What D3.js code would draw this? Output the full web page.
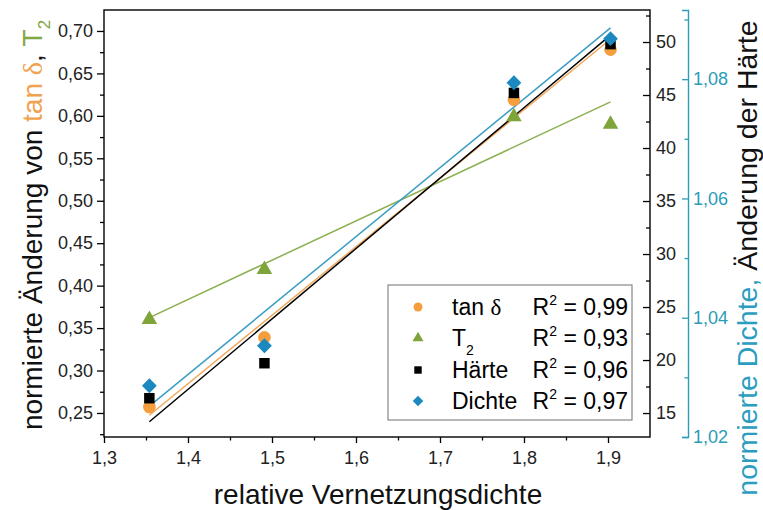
<!DOCTYPE html>
<html>
<head>
<meta charset="utf-8">
<script src="https://cdn.jsdelivr.net/npm/d3@7"></script>
<style>
  html, body { margin: 0; padding: 0; background: #fff; }
  svg { display: block; }
  text { font-family: "Liberation Sans", Arial, sans-serif; }
</style>
</head>
<body>
<svg id="chart" width="763" height="510"></svg>
<script>
// ---------- data ----------
const xValues   = [1.354, 1.491, 1.788, 1.903];
const tanDelta  = [0.257, 0.339, 0.619, 0.678];
const t2        = [0.360, 0.419, 0.599, 0.590];
const haerte    = [16.4, 19.7, 45.2, 49.8];
const dichte    = [1.0286, 1.0353, 1.0794, 1.0868];
const r2Labels  = ["0,99", "0,93", "0,96", "0,97"];

const xTicks       = [1.3, 1.4, 1.5, 1.6, 1.7, 1.8, 1.9];
const xMinorTicks  = [1.35, 1.45, 1.55, 1.65, 1.75, 1.85];
const yLeftTicks   = [0.25, 0.30, 0.35, 0.40, 0.45, 0.50, 0.55, 0.60, 0.65, 0.70];
const yLeftMinor   = [0.225, 0.275, 0.325, 0.375, 0.425, 0.475, 0.525, 0.575, 0.625, 0.675];
const hTicks       = [15, 20, 25, 30, 35, 40, 45, 50];
const hMinor       = [17.5, 22.5, 27.5, 32.5, 37.5, 42.5, 47.5, 52.5];
const dTicks       = [1.02, 1.04, 1.06, 1.08];
const dMinor       = [1.03, 1.05, 1.07, 1.09];

// ---------- layout ----------
const L = 104, R = 650, T = 10, B = 437;
const svg = d3.select("#chart");

const x  = d3.scaleLinear().domain([1.3, 1.95]).range([L, R]);
const yL = d3.scaleLinear().domain([0.2217, 0.7247]).range([B, T]);
const yH = d3.scaleLinear().domain([12.74, 53.02]).range([B, T]);
const yD = d3.scaleLinear().domain([1.02, 1.0916]).range([B, T]);

const comma = f => v => d3.format(f)(v).replace(".", ",");

const cOrange = "#F59E3D", cOrangeLine = "#F2A95E";
const cGreen = "#7EA43A", cGreenLine = "#8BAE4E";
const cBlack = "#000000";
const cBlue = "#1B89BF", cBlueLine = "#3C9DC3";
const cTeal = "#2C9CB8";

function styleAxis(g, color) {
  g.select(".domain").remove();
  g.selectAll("line").attr("stroke", color).attr("stroke-width", 1.3);
  g.selectAll("text").attr("fill", "#222").style("font-size", "18px");
}

// bottom axis
svg.append("g").attr("transform", `translate(0,${B})`)
  .call(d3.axisBottom(x).tickValues(xTicks).tickFormat(comma(".1f")).tickSize(6).tickPadding(8))
  .call(g => styleAxis(g, "#000"));
svg.append("g").attr("transform", `translate(0,${B})`)
  .call(d3.axisBottom(x).tickValues(xMinorTicks).tickFormat("").tickSize(3.5))
  .call(g => styleAxis(g, "#000"));

// left axis
svg.append("g").attr("transform", `translate(${L},0)`)
  .call(d3.axisLeft(yL).tickValues(yLeftTicks).tickFormat(comma(".2f")).tickSize(7).tickPadding(4))
  .call(g => styleAxis(g, "#000"));
svg.append("g").attr("transform", `translate(${L},0)`)
  .call(d3.axisLeft(yL).tickValues(yLeftMinor).tickFormat("").tickSize(4))
  .call(g => styleAxis(g, "#000"));

// right (Härte) axis
svg.append("g").attr("transform", `translate(${R},0)`)
  .call(d3.axisRight(yH).tickValues(hTicks).tickFormat(d3.format("d")).tickSize(-7).tickPadding(6))
  .call(g => styleAxis(g, "#000"));
svg.append("g").attr("transform", `translate(${R},0)`)
  .call(d3.axisRight(yH).tickValues(hMinor).tickFormat("").tickSize(-4))
  .call(g => styleAxis(g, "#000"));

// frame
svg.append("rect").attr("x", L).attr("y", T).attr("width", R - L).attr("height", B - T)
  .attr("fill", "none").attr("stroke", "#000").attr("stroke-width", 1.4);

// teal (Dichte) axis
const DX = 688;
svg.append("g").attr("transform", `translate(${DX},0)`)
  .call(d3.axisRight(yD).tickValues(dTicks).tickFormat(comma(".2f")).tickSize(-6).tickSizeOuter(-6).tickPadding(5))
  .call(g => {
    g.select(".domain").attr("stroke", cTeal).attr("stroke-width", 1.4);
    g.selectAll(".tick line").attr("stroke", cTeal).attr("stroke-width", 1.3);
    g.selectAll("text").attr("fill", cTeal).style("font-size", "18px");
  });
svg.append("g").attr("transform", `translate(${DX},0)`)
  .call(d3.axisRight(yD).tickValues(dMinor.filter(v => v <= 1.0916)).tickFormat("").tickSize(-3.5))
  .call(g => { g.select(".domain").remove(); g.selectAll("line").attr("stroke", cTeal).attr("stroke-width", 1.3); });

// ---------- regression lines ----------
function fit(xs, ys) {
  const mx = d3.mean(xs), my = d3.mean(ys);
  const sxy = d3.sum(xs, (v, i) => (v - mx) * (ys[i] - my));
  const sxx = d3.sum(xs, v => (v - mx) * (v - mx));
  const b = sxy / sxx, a = my - b * mx;
  const x0 = d3.min(xs), x1 = d3.max(xs);
  return [[x0, a + b * x0], [x1, a + b * x1]];
}
const series = [
  { ys: tanDelta, scale: yL, color: cOrange, line: cOrangeLine, sym: "circle" },
  { ys: t2,       scale: yL, color: cGreen,  line: cGreenLine,  sym: "triangle" },
  { ys: haerte,   scale: yH, color: cBlack,  line: cBlack,      sym: "square" },
  { ys: dichte,   scale: yD, color: cBlue,   line: cBlueLine,   sym: "diamond" }
];
const lineGen = s => d3.line().x(d => x(d[0])).y(d => s.scale(d[1]));
series.forEach(s => {
  svg.append("path").attr("d", lineGen(s)(fit(xValues, s.ys)))
    .attr("fill", "none").attr("stroke", s.line).attr("stroke-width", 1.5);
});

function symPath(sym, scale) {
  if (sym === "circle") return d3.symbol(d3.symbolCircle, 125 * scale)();
  if (sym === "triangle") return d3.symbol(d3.symbolTriangle, 105 * scale)();
  if (sym === "square") return d3.symbol(d3.symbolSquare, 110 * scale)();
  return d3.symbol(d3.symbolSquare, 110 * scale)();
}
series.forEach(s => {
  svg.append("g").selectAll("path").data(s.ys).join("path")
    .attr("d", symPath(s.sym, 1))
    .attr("transform", (d, i) => `translate(${x(xValues[i])},${s.scale(d)})` + (s.sym === "diamond" ? " rotate(45)" : ""))
    .attr("fill", s.color);
});

// ---------- legend ----------
const lg = svg.append("g");
lg.append("rect").attr("x", 388).attr("y", 285).attr("width", 244).attr("height", 135)
  .attr("fill", "#fff").attr("stroke", "#888").attr("stroke-width", 1.2);
const rowY = [307, 338, 370, 401];
series.forEach((s, i) => {
  lg.append("path").attr("d", symPath(s.sym, 0.5))
    .attr("transform", `translate(418,${rowY[i]})` + (s.sym === "diamond" ? " rotate(45)" : ""))
    .attr("fill", s.color);
});
const fs = 23;
let t;
t = lg.append("text").attr("x", 452).attr("y", rowY[0] + 8).style("font-size", fs + "px");
t.append("tspan").text("tan ");
t.append("tspan").text("δ").style("font-family", "'Liberation Serif', serif");
t = lg.append("text").attr("x", 452).attr("y", rowY[1] + 8).style("font-size", fs + "px");
t.append("tspan").text("T");
t.append("tspan").text("2").attr("dy", 9).style("font-size", "14px");
lg.append("text").attr("x", 452).attr("y", rowY[2] + 8).style("font-size", fs + "px").text("Härte");
lg.append("text").attr("x", 452).attr("y", rowY[3] + 8).style("font-size", fs + "px").text("Dichte");
r2Labels.forEach((r, i) => {
  const tt = lg.append("text").attr("x", 628).attr("y", rowY[i] + 8).attr("text-anchor", "end").style("font-size", fs + "px");
  tt.append("tspan").text("R");
  tt.append("tspan").text("2").attr("dy", -10).style("font-size", "14px");
  tt.append("tspan").text(" = " + r).attr("dy", 10);
});

// ---------- axis titles ----------
svg.append("text").attr("x", 378).attr("y", 504).attr("text-anchor", "middle")
  .style("font-size", "28px").attr("fill", "#111").text("relative Vernetzungsdichte");

const lt = svg.append("text").attr("transform", "translate(42,225) rotate(-90)")
  .attr("text-anchor", "middle").style("font-size", "28px").attr("fill", "#111");
lt.append("tspan").text("normierte Änderung von ");
lt.append("tspan").text("tan ").attr("fill", "#F0A24E");
lt.append("tspan").text("δ").attr("fill", "#F0A24E").style("font-family", "'Liberation Serif', serif");
lt.append("tspan").text(", ");
lt.append("tspan").text("T").attr("fill", "#7FA843");
lt.append("tspan").text("2").attr("fill", "#7FA843").attr("dy", 8).style("font-size", "17px");

const rt = svg.append("text").attr("transform", "translate(757,258) rotate(-90)")
  .attr("text-anchor", "middle").style("font-size", "28.5px").attr("fill", "#111");
rt.append("tspan").text("normierte Dichte, ").attr("fill", "#2B9DC0");
rt.append("tspan").text("Änderung der Härte");
</script>
</body>
</html>
